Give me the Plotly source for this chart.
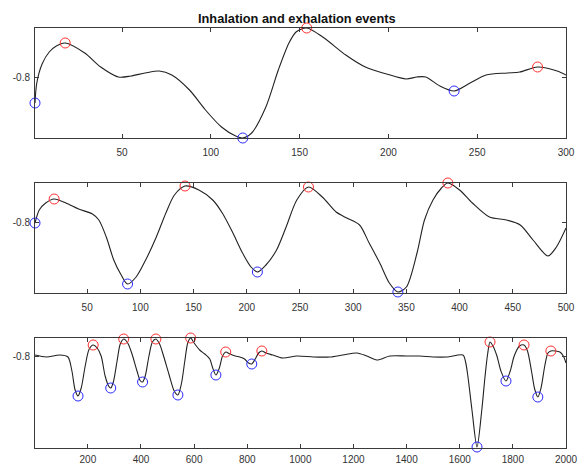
import plotly.graph_objects as go

# ---- Panel 1 data ----
p1_x = [1, 2, 5, 9, 13, 18, 29, 38, 48, 55, 63, 71, 78, 88, 97, 106, 114, 118, 123, 131, 138, 144, 148, 154,
        163, 176, 187, 199, 210, 216, 221, 229, 237, 246, 255, 267, 274, 284, 295, 300]
p1_y = [-0.826, -0.806, -0.787, -0.775, -0.769, -0.766, -0.776, -0.790, -0.800, -0.799, -0.796, -0.794, -0.798,
        -0.813, -0.833, -0.850, -0.859, -0.861, -0.856, -0.830, -0.793, -0.766, -0.755, -0.751,
        -0.760, -0.778, -0.790, -0.797, -0.802, -0.800, -0.800, -0.809, -0.814, -0.806, -0.798, -0.796, -0.795,
        -0.790, -0.794, -0.798]
p1_peak_x = [18, 154, 284]
p1_peak_y = [-0.766, -0.751, -0.790]
p1_trough_x = [1, 118, 237]
p1_trough_y = [-0.826, -0.861, -0.814]

# ---- Panel 2 data ----
p2_x = [1, 5, 11, 19, 30, 42, 55, 61, 68, 75, 82, 88, 96, 105, 115, 124, 132, 142, 155, 168, 177, 187, 196, 204,
        210, 218, 228, 237, 247, 258, 271, 284, 294, 306, 315, 325, 334, 342, 350, 360, 367, 375, 383, 389,
        400, 412, 428, 444, 457, 469, 483, 491, 500]
p2_y = [-0.801, -0.788, -0.781, -0.777, -0.781, -0.787, -0.792, -0.798, -0.815, -0.838, -0.853, -0.862, -0.855,
        -0.838, -0.815, -0.791, -0.773, -0.764, -0.768, -0.778, -0.791, -0.811, -0.831, -0.845,
        -0.850, -0.843, -0.828, -0.805, -0.778, -0.765, -0.775, -0.790, -0.796, -0.803, -0.821, -0.841, -0.861,
        -0.870, -0.865, -0.831, -0.798, -0.778, -0.766, -0.761,
        -0.768, -0.781, -0.795, -0.798, -0.803, -0.818, -0.834, -0.825, -0.806]
p2_peak_x = [19, 142, 258, 389]
p2_peak_y = [-0.777, -0.764, -0.765, -0.761]
p2_trough_x = [1, 88, 210, 342]
p2_trough_y = [-0.801, -0.862, -0.850, -0.870]

# ---- Panel 3 data ----
p3_x = [1, 44, 94, 125, 140, 152, 163, 175, 190, 205, 220, 235, 250, 265, 278, 286, 296, 310, 322, 335, 350,
        365, 385, 398, 406, 416, 430, 443, 456, 470, 485, 505, 525, 539, 552, 565, 576, 587, 600, 621, 640,
        659, 670, 682, 695, 707, 719, 735, 755, 772, 790, 805, 817, 830, 843, 855, 870, 896, 934, 987, 1050,
        1111, 1160, 1213, 1250, 1288, 1337, 1400, 1450, 1500, 1552, 1612, 1622, 1631, 1646, 1665, 1683, 1695,
        1705, 1714, 1725, 1740, 1755, 1774, 1790, 1805, 1825, 1842, 1855, 1870, 1882, 1894, 1906, 1920, 1932,
        1943, 1960, 1977, 1990, 2000]
p3_y = [-0.799, -0.801, -0.799, -0.801, -0.815, -0.834, -0.840, -0.832, -0.810, -0.793, -0.789, -0.792, -0.800,
        -0.820, -0.830, -0.832, -0.826, -0.805, -0.788, -0.783, -0.787,
        -0.797, -0.815, -0.825, -0.826, -0.820, -0.800, -0.786, -0.783, -0.788, -0.800, -0.818, -0.835, -0.839,
        -0.828, -0.805, -0.787, -0.782, -0.787, -0.794, -0.798,
        -0.803, -0.812, -0.819, -0.812, -0.800, -0.796, -0.798, -0.800, -0.801, -0.803, -0.807, -0.808, -0.803,
        -0.797, -0.795, -0.797, -0.799, -0.802, -0.800, -0.801,
        -0.801, -0.799, -0.797, -0.800, -0.804, -0.800, -0.800, -0.800, -0.801, -0.801, -0.799, -0.806, -0.821,
        -0.854, -0.891, -0.854, -0.821,
        -0.798, -0.786, -0.790, -0.800, -0.815, -0.825, -0.815, -0.800, -0.790, -0.789, -0.795, -0.815, -0.833,
        -0.841, -0.832, -0.810, -0.797,
        -0.795, -0.795, -0.796, -0.800, -0.807]
p3_peak_x = [220, 335, 456, 587, 719, 855, 1714, 1842, 1943]
p3_peak_y = [-0.789, -0.783, -0.783, -0.782, -0.796, -0.795, -0.786, -0.789, -0.795]
p3_trough_x = [163, 286, 406, 539, 682, 817, 1665, 1774, 1894]
p3_trough_y = [-0.840, -0.832, -0.826, -0.839, -0.819, -0.808, -0.891, -0.825, -0.841]

y_tick_vals = [-0.8]
y_tick_text = ["-0.8"]
x_ticks = [
    [50, 100, 150, 200, 250, 300],
    [50, 100, 150, 200, 250, 300, 350, 400, 450, 500],
    [200, 400, 600, 800, 1000, 1200, 1400, 1600, 1800, 2000],
]
x_ranges = [[1, 300], [1, 500], [1, 2000]]
y_ranges = [[-0.861, -0.751], [-0.871, -0.761], [-0.892, -0.782]]
title_text = "Inhalation and exhalation events"

panels = [
    (p1_x, p1_y, p1_peak_x, p1_peak_y, p1_trough_x, p1_trough_y),
    (p2_x, p2_y, p2_peak_x, p2_peak_y, p2_trough_x, p2_trough_y),
    (p3_x, p3_y, p3_peak_x, p3_peak_y, p3_trough_x, p3_trough_y),
]

W, H = 579, 466
x_dom = [35 / W, 566 / W]
y_px = [(28, 138), (183, 293), (338, 448)]
x_standoff = [5, 5, 2]

fig = go.Figure()
axis_font = dict(family="Liberation Sans, Arial, sans-serif", size=10, color="#333333")

for i, (x, y, px, py, tx, ty) in enumerate(panels):
    n = "" if i == 0 else str(i + 1)
    xa, ya = "x" + n, "y" + n
    fig.add_trace(go.Scatter(x=x, y=y, mode="lines", xaxis=xa, yaxis=ya,
                             line=dict(color="#222222", width=1.1, shape="spline", smoothing=0.8),
                             showlegend=False, hoverinfo="skip"))
    fig.add_trace(go.Scatter(x=px, y=py, mode="markers", xaxis=xa, yaxis=ya, cliponaxis=False,
                             marker=dict(symbol="circle-open", size=10, color="#ff3030", line=dict(width=1)),
                             showlegend=False))
    fig.add_trace(go.Scatter(x=tx, y=ty, mode="markers", xaxis=xa, yaxis=ya, cliponaxis=False,
                             marker=dict(symbol="circle-open", size=10, color="#2a2aff", line=dict(width=1)),
                             showlegend=False))
    top, bot = y_px[i]
    common = dict(showline=True, linecolor="#3a3a3a", linewidth=1, mirror="allticks",
                  ticks="inside", ticklen=4, tickcolor="#3a3a3a", showgrid=False, zeroline=False,
                  tickfont=axis_font, automargin=False)
    fig.update_layout(**{
        "xaxis" + n: dict(domain=x_dom, range=x_ranges[i], tickvals=x_ticks[i], anchor=ya,
                          ticklabelstandoff=x_standoff[i], **common),
        "yaxis" + n: dict(domain=[1 - bot / H, 1 - top / H], range=y_ranges[i], anchor=xa,
                          tickvals=y_tick_vals, ticktext=y_tick_text, ticklabelstandoff=2, **common),
    })

fig.add_annotation(text="<b>" + title_text + "</b>", xref="paper", yref="paper",
                   x=297 / W, y=1 - 18 / H, xanchor="center", yanchor="middle", showarrow=False,
                   font=dict(family="Liberation Sans, Arial, sans-serif", size=12.8, color="#111111"))

fig.update_layout(width=W, height=H, margin=dict(l=0, r=0, t=0, b=0, autoexpand=False),
                  paper_bgcolor="white", plot_bgcolor="white", autosize=False)

fig.write_html("out.html", config={"displayModeBar": False},
               post_script="document.body.style.margin='0';document.body.style.overflow='hidden';")
